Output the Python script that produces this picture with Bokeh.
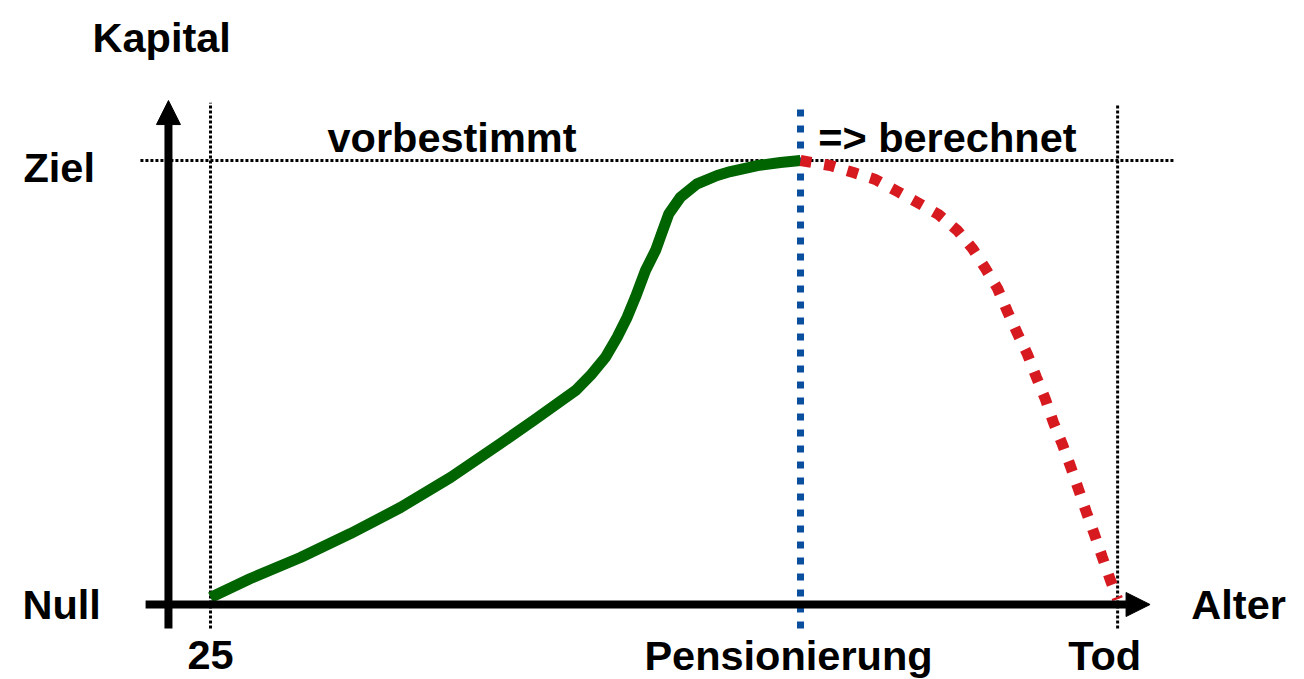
from bokeh.plotting import figure
from bokeh.models import Range1d, Arrow, NormalHead, Label
from bokeh.embed import file_html
from bokeh.resources import INLINE

# ---- data (age in years, capital in % of target) ----
age_save = [25.0, 27.71, 31.10, 34.49, 37.88, 41.27, 44.66, 46.90, 49.75, 50.76, 51.78, 52.57,
            53.25, 53.81, 54.49, 55.17, 55.62, 56.07, 56.86, 57.99, 59.35, 60.25, 62.08, 63.64, 65.0]
cap_save = [1.6, 5.86, 10.59, 15.99, 21.85, 28.60, 36.26, 41.44, 48.20, 51.58, 55.70, 60.20,
            64.71, 69.21, 75.23, 79.73, 83.85, 88.00, 91.73, 94.75, 96.62, 97.52, 98.87, 99.55, 100.0]

age_spend = [65.0, 67.03, 68.59, 70.08, 71.58, 72.93, 74.36, 75.64, 76.66, 77.54, 78.36, 79.03,
             79.71, 80.39, 81.00, 81.61, 82.15, 82.76, 83.31, 83.85, 84.39, 84.93, 85.47, 86.02, 86.5]
cap_spend = [100.0, 98.87, 97.30, 95.72, 93.02, 90.54, 87.84, 84.23, 80.18, 75.68, 71.17, 65.99,
             61.04, 56.31, 51.13, 46.17, 40.99, 36.04, 31.08, 25.90, 20.72, 15.77, 10.59, 5.41, 1.2]

age_start = 25.0
age_retire = 65.0
age_death = 86.5
cap_null = 0.0
cap_goal = 100.0

x_labels = ["25", "Pensionierung", "Tod"]
y_labels = ["Null", "Ziel"]

FONT = "Liberation Sans"
FS = "41.5px"

p = figure(width=1304, height=679, output_backend="svg", toolbar_location=None,
           x_range=Range1d(10.763, 99.17), y_range=Range1d(-16.89, 136.04),
           min_border=0)
p.axis.visible = False
p.grid.visible = False
p.outline_line_color = None
p.background_fill_color = "white"
p.border_fill_color = "white"

# guide lines
dot = dict(line_color="black", line_width=3, line_dash="3 2")
p.line([age_start, age_start], [-5.4, 113.0], **dot)
p.line([age_death, age_death], [-5.4, 112.8], **dot)
p.line([20.25, 90.3], [cap_goal, cap_goal], **dot)

# retirement line
p.line([age_retire, age_retire], [-5.4, 112.4], line_color="#0a4f9e", line_width=7, line_dash="7 9")

# axes with arrow heads
p.add_layout(Arrow(end=NormalHead(size=24, fill_color="black", line_color="black", line_width=1),
                   x_start=22.15, y_start=-5.4, x_end=22.15, y_end=113.5,
                   line_color="black", line_width=8))
p.add_layout(Arrow(end=NormalHead(size=24, fill_color="black", line_color="black", line_width=1),
                   x_start=20.6, y_start=cap_null, x_end=88.7, y_end=cap_null,
                   line_color="black", line_width=8))

# curves
p.line(age_save, cap_save, line_color="#006400", line_width=11, line_join="round", line_cap="butt")
p.line(age_spend, cap_spend, line_color="#d71920", line_width=11, line_dash="11 13", line_cap="butt")

def lab(x, y, text, align="left", xo=0):
    p.add_layout(Label(x=x, y=y, text=text, text_font=FONT, text_font_size=FS,
                       text_font_style="bold", text_color="black", text_align=align,
                       text_baseline="alphabetic", x_offset=xo))

lab(17.0, 127.6, "Kapital")
lab(12.32, 98.5, y_labels[1])
lab(12.25, -0.1, y_labels[0])
lab(91.5, 0.1, "Alter")
lab(age_start, -11.4, x_labels[0], align="center")
lab(age_retire, -11.4, x_labels[1], align="center", xo=-12)
lab(age_death, -11.4, x_labels[2], align="center", xo=-13)
lab(32.93, 105.2, "vorbestimmt")
lab(66.2, 105.2, "=> berechnet")

open("out.html", "w").write(file_html(p, INLINE))
